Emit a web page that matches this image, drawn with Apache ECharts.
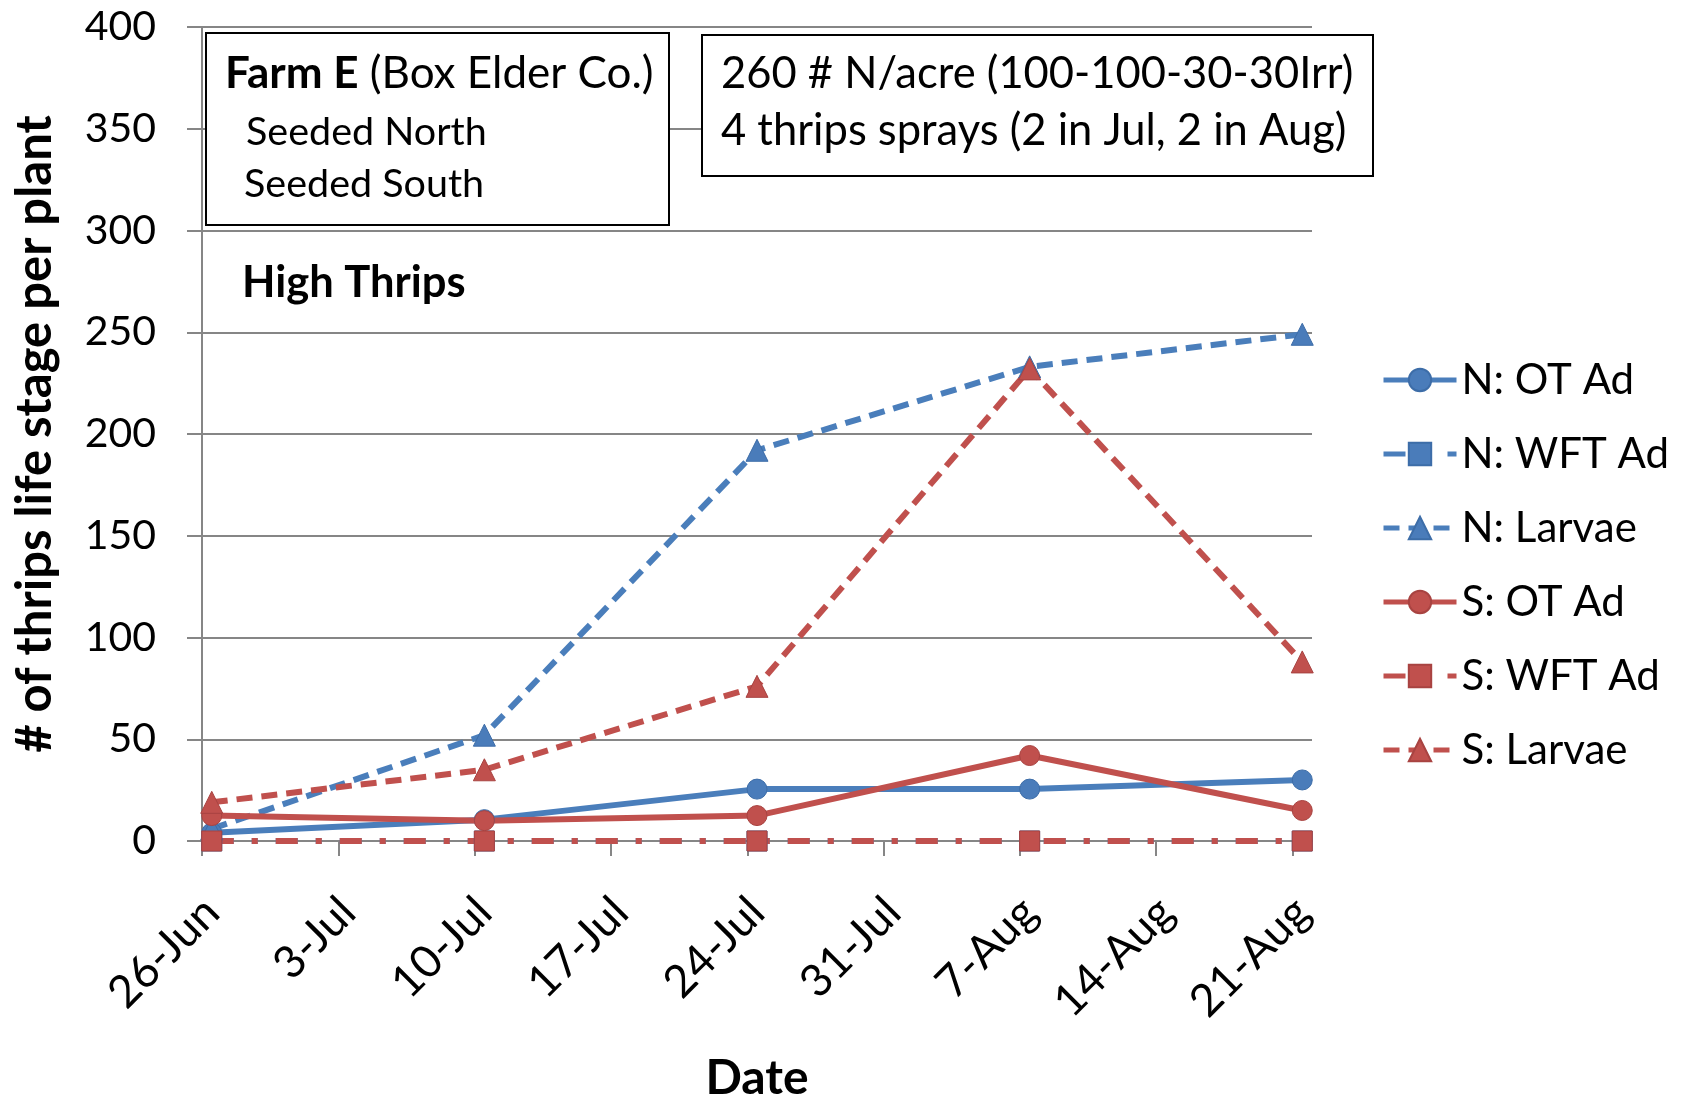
<!DOCTYPE html>
<html>
<head>
<meta charset="utf-8">
<script src="https://cdn.jsdelivr.net/npm/echarts@6/dist/echarts.min.js"></script>
<style>
html,body{margin:0;padding:0;background:#fff;}
#chart{width:1688px;height:1103px;}
</style>
</head>
<body>
<div id="chart"></div>
<script>
// ---- data ----
const sampleDates = ['2014-06-26','2014-07-10','2014-07-24','2014-08-07','2014-08-21'];
const tickDates = ['2014-06-26','2014-07-03','2014-07-10','2014-07-17','2014-07-24','2014-07-31','2014-08-07','2014-08-14','2014-08-21'];
const tickLabels = ['26-Jun','3-Jul','10-Jul','17-Jul','24-Jul','31-Jul','7-Aug','14-Aug','21-Aug'];
const axisStart = '2014-06-26';
const axisEnd = '2014-08-22';
const yTicks = [0,50,100,150,200,250,300,350,400];

const nOTAd   = [4, 10.5, 25.5, 25.5, 30];
const nWFTAd  = [0, 0, 0, 0, 0];
const nLarvae = [6, 52, 192, 233, 249];
const sOTAd   = [12.5, 10, 12.5, 42, 15];
const sWFTAd  = [0, 0, 0, 0, 0];
const sLarvae = [19, 35, 76, 232, 88];

const seriesNames = ['N: OT Ad','N: WFT Ad','N: Larvae','S: OT Ad','S: WFT Ad','S: Larvae'];

// ---- helpers ----
function dayNum(s){ const p = s.split('-').map(Number); return Math.round(Date.UTC(p[0], p[1]-1, p[2]) / 86400000); }
const d0 = dayNum(axisStart);
function dayIdx(s){ return dayNum(s) - d0; }   // days since axis start
const BLUE = '#4A7EBB', BLUE_M = '#4A7CBA', BLUE_B = '#3D6DA8';
const RED = '#C0504D', RED_M = '#C0504D', RED_B = '#A84341';
const FONT = 'Lato';

// Excel date axis "between tick marks": each point sits in the middle of its day
function pts(vals){ return sampleDates.map((d,i)=>[dayIdx(d)+0.5, vals[i]]); }
function mk(name, vals, color, mfill, mborder, symbol, size, lineType){
  return {
    name: name, type:'line', data: pts(vals),
    symbol: symbol, symbolSize: size,
    lineStyle:{color:color, width:6, type:lineType, cap:'butt'},
    itemStyle:{color:mfill, borderColor:mborder, borderWidth:1},
    emphasis:{disabled:true}, animation:false
  };
}
const dashDot = [22,18,6,18];
const dash = [16,9];

const tickVals = tickDates.map(d=>dayIdx(d));
const labelVals = tickDates.map(d=>dayIdx(d)+0.5);

const chart = echarts.init(document.getElementById('chart'), null, {renderer:'canvas'});
chart.setOption({
  backgroundColor:'#fff',
  animation:false,
  textStyle:{fontFamily:FONT},
  grid:{left:202, right:376, top:27, bottom:262, containLabel:false, outerBoundsMode:'none'},
  xAxis:{
    type:'value',
    min: 0, max: dayIdx(axisEnd),
    name:'Date', nameLocation:'middle', nameGap:214,
    nameTextStyle:{fontFamily:FONT, fontWeight:'bold', fontSize:48, color:'#000'},
    axisLine:{show:true, onZero:false, lineStyle:{color:'#868686', width:2}},
    axisTick:{show:true, length:15, inside:false, customValues: tickVals, lineStyle:{color:'#868686', width:2}},
    axisLabel:{show:true, rotate:45, margin:64, fontSize:45, color:'#000', fontFamily:FONT,
      customValues: labelVals,
      formatter: function(v){ const i = labelVals.indexOf(v); return i>=0 ? tickLabels[i] : ''; }},
    splitLine:{show:false}
  },
  yAxis:{
    type:'value', min:0, max:400, interval:50,
    name:'# of thrips life stage per plant', nameLocation:'middle', nameGap:142,
    nameTextStyle:{fontFamily:FONT, fontWeight:'bold', fontSize:49, color:'#000'},
    axisLine:{show:true, lineStyle:{color:'#868686', width:2}},
    axisTick:{show:true, length:15, lineStyle:{color:'#868686', width:2}},
    axisLabel:{margin:46, fontSize:41, color:'#000', fontFamily:FONT,
      formatter: function(v){ return yTicks.indexOf(v)>=0 ? String(v) : ''; }},
    splitLine:{show:true, lineStyle:{color:'#868686', width:2}}
  },
  legend:{
    orient:'vertical', left:1376, top:351, itemGap:26,
    itemWidth:73, itemHeight:28,
    data: seriesNames,
    lineStyle:{width:5},
    textStyle:{fontFamily:FONT, fontSize:42, color:'#000', lineHeight:48},
    selectedMode:false
  },
  series:[
    mk(seriesNames[0], nOTAd, BLUE, BLUE_M, BLUE_B, 'circle', 20, 'solid'),
    mk(seriesNames[1], nWFTAd, BLUE, BLUE_M, BLUE_B, 'rect', 20, dashDot),
    mk(seriesNames[2], nLarvae, BLUE, BLUE_M, BLUE_B, 'triangle', 22, dash),
    mk(seriesNames[3], sOTAd, RED, RED_M, RED_B, 'circle', 20, 'solid'),
    mk(seriesNames[4], sWFTAd, RED, RED_M, RED_B, 'rect', 20, dashDot),
    mk(seriesNames[5], sLarvae, RED, RED_M, RED_B, 'triangle', 22, dash)
  ],
  graphic:[
    {type:'rect', z:10, shape:{x:206, y:33, width:463, height:192}, style:{fill:'#fff', stroke:'#000', lineWidth:2}},
    {type:'text', z:11, left:225, top:52, style:{
      rich:{b:{fontFamily:FONT, fontWeight:'bold', fontSize:44, fill:'#000'}, n:{fontFamily:FONT, fontSize:44, fill:'#000'}},
      text:'{b|Farm E}{n| (Box Elder Co.)}'}},
    {type:'text', z:11, left:246, top:112, style:{text:'Seeded North', fontFamily:FONT, fontSize:39.5, fill:'#000'}},
    {type:'text', z:11, left:244, top:164, style:{text:'Seeded South', fontFamily:FONT, fontSize:39.5, fill:'#000'}},
    {type:'rect', z:10, shape:{x:702, y:35, width:671, height:141}, style:{fill:'#fff', stroke:'#000', lineWidth:2}},
    {type:'text', z:11, left:721, top:52, style:{text:'260 # N/acre (100-100-30-30Irr)', fontFamily:FONT, fontSize:43.5, fill:'#000'}},
    {type:'text', z:11, left:721, top:109, style:{text:'4 thrips sprays (2 in Jul, 2 in Aug)', fontFamily:FONT, fontSize:43.5, fill:'#000'}},
    {type:'text', z:11, left:242, top:261, style:{text:'High Thrips', fontFamily:FONT, fontWeight:'bold', fontSize:43.5, fill:'#000'}}
  ]
});
</script>
</body>
</html>
